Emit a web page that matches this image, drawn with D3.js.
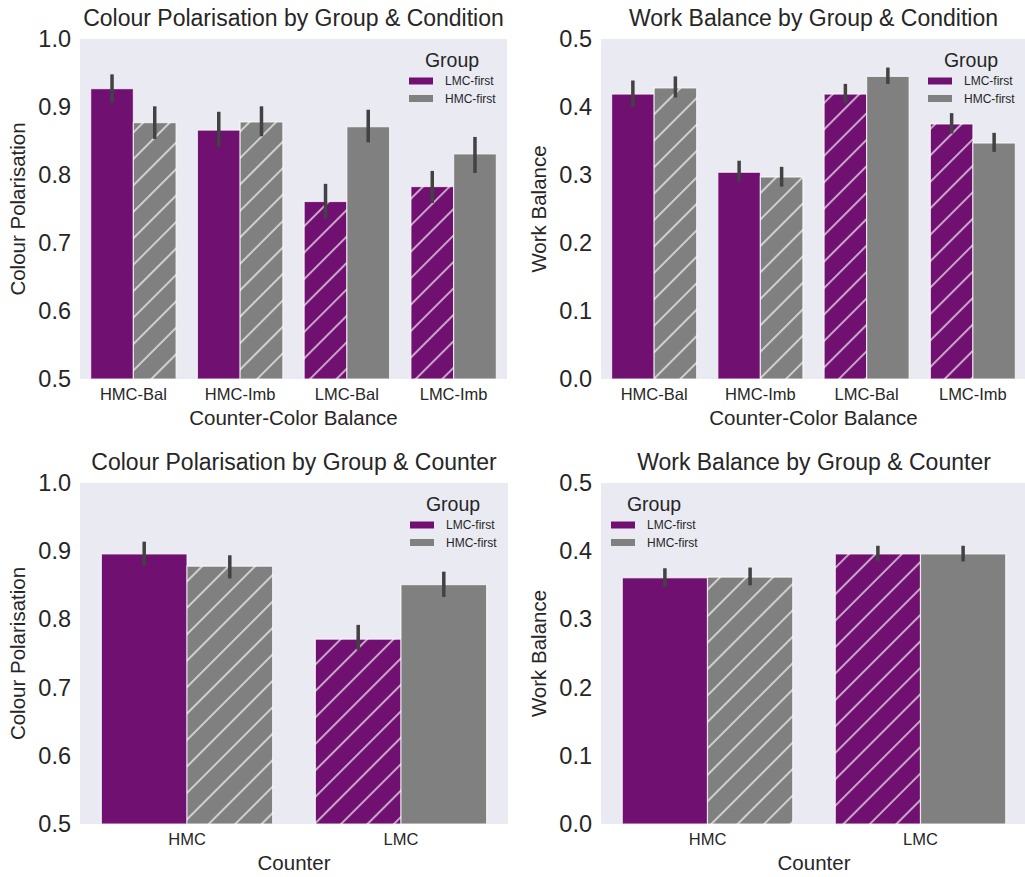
<!DOCTYPE html>
<html>
<head>
<meta charset="utf-8">
<script src="https://cdn.jsdelivr.net/npm/d3@7"></script>
<style>
  html, body { margin: 0; padding: 0; background: #ffffff; }
  svg { display: block; font-family: "Liberation Sans", Arial, sans-serif; }
</style>
</head>
<body>
<svg id="fig" width="1025" height="877"></svg>
<script>
// ---- data -------------------------------------------------------------
const groups = ["LMC-first", "HMC-first"];
const conditions = ["HMC-Bal", "HMC-Imb", "LMC-Bal", "LMC-Imb"];
const counters = ["HMC", "LMC"];

// Colour polarisation by condition (mean, CI low, CI high)
const polCondLMC = [0.927, 0.866, 0.761, 0.783];
const polCondHMC = [0.877, 0.878, 0.871, 0.831];
const polCondLMCci = [[0.906, 0.948], [0.841, 0.893], [0.736, 0.787], [0.759, 0.806]];
const polCondHMCci = [[0.853, 0.901], [0.857, 0.901], [0.848, 0.896], [0.803, 0.856]];

// Work balance by condition
const workCondLMC = [0.419, 0.304, 0.419, 0.375];
const workCondHMC = [0.428, 0.297, 0.445, 0.347];
const workCondLMCci = [[0.400, 0.439], [0.291, 0.321], [0.406, 0.434], [0.361, 0.391]];
const workCondHMCci = [[0.414, 0.445], [0.283, 0.312], [0.434, 0.458], [0.334, 0.362]];

// Colour polarisation by counter
const polCountLMC = [0.896, 0.771];
const polCountHMC = [0.878, 0.851];
const polCountLMCci = [[0.879, 0.914], [0.755, 0.792]];
const polCountHMCci = [[0.860, 0.894], [0.833, 0.870]];

// Work balance by counter
const workCountLMC = [0.361, 0.396];
const workCountHMC = [0.362, 0.396];
const workCountLMCci = [[0.347, 0.375], [0.385, 0.408]];
const workCountHMCci = [[0.350, 0.376], [0.385, 0.408]];

const polTicks = [0.5, 0.6, 0.7, 0.8, 0.9, 1.0];
const workTicks = [0.0, 0.1, 0.2, 0.3, 0.4, 0.5];

// ---- style ------------------------------------------------------------
const groupColor = d3.scaleOrdinal().domain(groups).range(["#701070", "#808080"]);
const textColor = "#262626";
const panelBg = "#eaeaf2";

const svg = d3.select("#fig");

// diagonal hatch used for bars whose group matches the counter colour
const hatchStep = 18.7;
const defs = svg.append("defs");
groups.forEach((g, i) => {
  const p = defs.append("pattern")
    .attr("id", "hatch" + i)
    .attr("patternUnits", "userSpaceOnUse")
    .attr("width", hatchStep).attr("height", hatchStep)
    .attr("patternTransform", "rotate(45)");
  p.append("rect").attr("width", hatchStep).attr("height", hatchStep).attr("fill", groupColor(g));
  p.append("line").attr("x1", 1).attr("y1", 0).attr("x2", 1).attr("y2", hatchStep)
    .attr("stroke", "#ffffff").attr("stroke-opacity", 0.62).attr("stroke-width", 2);
});

function panel(opts) {
  const { x0, x1, y0, y1, cats, domain, ticks, seriesVals, seriesCI,
          title, xLabel, yLabel, legendSide } = opts;
  const g = svg.append("g");

  // each category slot holds 0.8 of its width for the pair of bars
  const slot = d3.scaleBand().domain(cats).range([x0, x1]);
  const inner = d3.scaleBand().domain(groups).range([0, slot.bandwidth() * 0.8]);
  const y = d3.scaleLinear().domain(domain).range([y1, y0]);

  g.append("rect").attr("x", x0).attr("y", y0)
    .attr("width", x1 - x0).attr("height", y1 - y0).attr("fill", panelBg);

  groups.forEach((grp, gi) => {
    const vals = seriesVals[gi];
    const cis = seriesCI[gi];
    const prefix = grp.split("-")[0];
    const barX = (c) => slot(c) + slot.bandwidth() * 0.1 + inner(grp);
    g.selectAll(null).data(cats).enter().append("rect")
      .attr("x", c => barX(c))
      .attr("y", (c, i) => y(vals[i]))
      .attr("width", inner.bandwidth())
      .attr("height", (c, i) => y(domain[0]) - y(vals[i]))
      .attr("fill", c => c.startsWith(prefix) ? `url(#hatch${gi})` : groupColor(grp))
      .attr("stroke", "#ffffff").attr("stroke-opacity", 0.7).attr("stroke-width", 1.2);
    g.selectAll(null).data(cats).enter().append("line")
      .attr("x1", c => barX(c) + inner.bandwidth() / 2)
      .attr("x2", c => barX(c) + inner.bandwidth() / 2)
      .attr("y1", (c, i) => y(cis[i][0]))
      .attr("y2", (c, i) => y(cis[i][1]))
      .attr("stroke", "#424242").attr("stroke-width", 3.5);
  });

  // axes
  const yAxis = d3.axisLeft(y).tickValues(ticks).tickFormat(d3.format(".1f")).tickSize(0).tickPadding(9);
  const ya = g.append("g").attr("transform", `translate(${x0},0)`).call(yAxis);
  ya.select(".domain").remove();
  ya.selectAll("text").attr("font-size", 23.5).attr("fill", textColor)
    .attr("font-family", "Liberation Sans, Arial, sans-serif");

  const xAxis = d3.axisBottom(slot).tickSize(0).tickPadding(9);
  const xa = g.append("g").attr("transform", `translate(0,${y1})`).call(xAxis);
  xa.select(".domain").remove();
  xa.selectAll("text").attr("font-size", 16.5).attr("fill", textColor)
    .attr("font-family", "Liberation Sans, Arial, sans-serif");

  const cx = (x0 + x1) / 2;
  g.append("text").attr("x", cx).attr("y", y0 - 21).attr("dy", "0.35em")
    .attr("text-anchor", "middle").attr("font-size", 23).attr("fill", textColor).text(title);
  g.append("text").attr("x", cx).attr("y", y1 + 39).attr("dy", "0.35em")
    .attr("text-anchor", "middle").attr("font-size", 20.5).attr("fill", textColor).text(xLabel);
  g.append("text")
    .attr("transform", `translate(${x0 - 62},${(y0 + y1) / 2}) rotate(-90)`)
    .attr("dy", "0.35em").attr("text-anchor", "middle")
    .attr("font-size", 20.5).attr("fill", textColor).text(yLabel);

  // legend
  const lx = legendSide === "right" ? x1 - 98 : x0 + 10;
  const lg = g.append("g");
  lg.append("text").attr("x", lx + 43).attr("y", y0 + 21).attr("dy", "0.35em")
    .attr("text-anchor", "middle").attr("font-size", 19.5).attr("fill", textColor).text("Group");
  groups.forEach((grp, i) => {
    const ly = y0 + 42 + i * 17.5;
    lg.append("rect").attr("x", lx).attr("y", ly - 3.5).attr("width", 24).attr("height", 7)
      .attr("fill", groupColor(grp));
    lg.append("text").attr("x", lx + 36).attr("y", ly).attr("dy", "0.35em")
      .attr("font-size", 12).attr("fill", textColor).text(grp);
  });
}

panel({ x0: 80, x1: 507, y0: 39, y1: 379, cats: conditions, domain: [0.5, 1.0], ticks: polTicks,
  seriesVals: [polCondLMC, polCondHMC], seriesCI: [polCondLMCci, polCondHMCci],
  title: "Colour Polarisation by Group & Condition", xLabel: "Counter-Color Balance",
  yLabel: "Colour Polarisation", legendSide: "right" });

panel({ x0: 601, x1: 1026, y0: 39, y1: 379, cats: conditions, domain: [0.0, 0.5], ticks: workTicks,
  seriesVals: [workCondLMC, workCondHMC], seriesCI: [workCondLMCci, workCondHMCci],
  title: "Work Balance by Group & Condition", xLabel: "Counter-Color Balance",
  yLabel: "Work Balance", legendSide: "right" });

panel({ x0: 80, x1: 508, y0: 483, y1: 824, cats: counters, domain: [0.5, 1.0], ticks: polTicks,
  seriesVals: [polCountLMC, polCountHMC], seriesCI: [polCountLMCci, polCountHMCci],
  title: "Colour Polarisation by Group & Counter", xLabel: "Counter",
  yLabel: "Colour Polarisation", legendSide: "right" });

panel({ x0: 601, x1: 1027, y0: 483, y1: 824, cats: counters, domain: [0.0, 0.5], ticks: workTicks,
  seriesVals: [workCountLMC, workCountHMC], seriesCI: [workCountLMCci, workCountHMCci],
  title: "Work Balance by Group & Counter", xLabel: "Counter",
  yLabel: "Work Balance", legendSide: "left" });
</script>
</body>
</html>
